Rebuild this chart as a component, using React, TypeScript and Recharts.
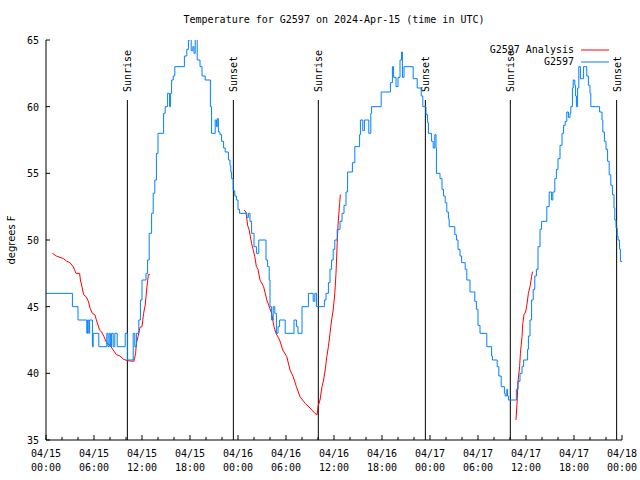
import React from 'react';
import { LineChart, Line, XAxis, YAxis, ReferenceLine, Legend } from 'recharts';

const MONO = '"DejaVu Sans Mono", monospace';

// observed temperatures, [hour since 04/15 00:00 UTC, degF]
const obsReadings: [number, number][] = [
  [0, 46], [3.3, 45], [4.0, 44], [5.1, 43], [5.2, 44], [5.35, 43], [5.45, 44], [5.8, 42], [5.9, 43], [6.6, 42],
  [7.6, 43], [7.75, 42], [7.9, 43], [8.05, 42], [8.2, 43], [8.4, 42], [8.6, 43], [8.9, 42], [9.9, 43], [10.2, 41],
  [10.9, 43], [11.1, 42], [11.3, 43], [11.6, 44], [11.8, 45.5], [12.0, 47], [12.5, 47.5], [12.7, 48.5], [12.9, 50.5], [13.2, 52],
  [13.4, 53.5], [13.6, 54.5], [13.8, 56.5], [14.0, 58], [14.7, 59.5], [14.9, 60], [15.2, 61], [15.45, 60], [15.55, 61], [15.7, 62],
  [15.9, 62.3], [16.1, 63], [17.3, 63.8], [17.6, 64.3], [17.8, 65], [18.0, 65.5], [18.15, 64.2], [18.35, 64.5], [18.5, 64], [18.65, 65.5],
  [18.9, 63.5], [19.25, 63], [19.5, 62.3], [19.9, 62], [20.55, 60], [20.7, 58], [21.15, 59], [21.3, 58.5], [21.4, 59.1], [21.55, 58.1],
  [21.75, 57.9], [21.95, 57.4], [22.2, 56.9], [22.4, 56.6], [22.8, 56], [23.0, 55.6], [23.1, 55.1], [23.2, 54.6], [23.4, 53.7], [23.6, 53.3],
  [23.8, 53], [24.0, 52.3], [24.2, 52], [25.1, 51.7], [25.3, 52], [25.5, 51.4], [25.7, 50.5], [26.0, 49.5], [26.3, 49], [26.6, 50],
  [27.5, 48.5], [27.7, 48], [27.9, 47], [28.0, 45], [28.2, 44], [28.4, 45], [28.6, 44.5], [28.8, 43], [29.0, 43.5], [29.2, 44],
  [29.9, 43], [31.0, 44], [31.3, 43.5], [31.5, 43], [32.0, 45], [32.8, 46], [33.4, 45.4], [33.6, 46], [33.8, 45], [34.8, 45.5],
  [35.0, 46], [35.3, 46.8], [35.5, 47.8], [35.7, 48.5], [35.9, 49.3], [36.1, 50], [36.4, 50.8], [36.75, 51.4], [37.0, 52], [37.25, 52.6],
  [37.5, 53.6], [37.7, 55.1], [38.3, 55.8], [38.6, 57], [39.2, 57.9], [39.3, 59], [39.6, 58.2], [39.8, 59], [40.35, 58], [40.6, 59.5],
  [40.7, 60], [41.9, 61.1], [43.05, 61.8], [43.3, 63], [43.45, 62.2], [43.75, 61.5], [44.0, 62.2], [44.25, 63.5], [44.45, 64.1], [44.55, 62.2],
  [44.75, 63], [45.9, 62.1], [46.4, 61.4], [46.9, 60.8], [47.1, 60], [47.5, 59.4], [47.7, 58.8], [47.8, 58], [48.2, 57.4], [48.4, 56.9],
  [48.6, 57.9], [48.75, 56.9], [48.8, 55], [49.25, 54.6], [49.5, 53.8], [49.7, 53.3], [49.9, 52.8], [50.1, 52.1], [50.3, 51.6], [50.4, 51],
  [51.1, 50.4], [51.3, 50], [51.5, 49.3], [51.75, 48.8], [51.95, 48.3], [52.4, 47.8], [52.6, 47], [53.0, 46.1], [53.6, 45.4], [53.8, 44.8],
  [54.0, 43.6], [54.25, 43], [55.1, 42], [55.7, 41.3], [55.8, 41], [56.4, 40.5], [56.6, 39.8], [56.9, 39], [57.3, 38.5], [57.4, 38.3],
  [57.6, 38.8], [57.7, 38.3], [57.8, 38], [58.8, 38.8], [59.0, 39.4], [59.25, 40], [59.5, 40.5], [59.7, 41], [60.2, 41.8], [60.3, 42.8],
  [60.5, 44], [60.7, 45.5], [60.9, 46.3], [61.1, 47.3], [61.3, 47.8], [61.5, 49.5], [61.75, 50.8], [61.95, 51.4], [62.6, 52.5], [62.9, 53.6],
  [63.2, 53], [63.35, 53.6], [63.6, 54.6], [63.8, 55.3], [64.0, 56.1], [64.25, 57.1], [64.5, 58], [64.7, 58.6], [64.9, 58.9], [65.1, 59.6],
  [65.3, 59.2], [65.5, 59.5], [65.6, 60], [65.8, 61.4], [65.9, 62], [66.1, 61.6], [66.2, 60.8], [66.3, 60], [66.45, 61.4], [66.6, 63],
  [66.8, 62.1], [67.1, 62.1], [67.2, 63], [67.6, 62.3], [67.8, 61.6], [68.0, 61], [68.1, 60], [69.2, 59.6], [69.5, 59], [69.6, 58.1],
  [69.8, 57.4], [70.0, 56.8], [70.2, 55.9], [70.4, 54.9], [70.6, 54.1], [70.8, 53.4], [71.0, 52.4], [71.1, 51.5], [71.25, 50.9], [71.4, 50.3],
  [71.5, 50], [71.7, 49.3], [71.8, 48.4], [72, 48.4],
];

// analysis runs, null breaks the line between runs
const anaReadings: [number, number | null][] = [
  [0.8, 49], [1.3, 48.8], [1.75, 48.7], [2.2, 48.6], [2.6, 48.4], [3.0, 48.3], [3.4, 48.0], [3.75, 47.5], [4.2, 47.5], [4.3, 47],
  [4.5, 46.5], [4.7, 45.9], [5.0, 45.75], [5.3, 45.4], [5.5, 44.9], [5.8, 44.5], [6.1, 44.4], [6.3, 44], [6.7, 43.25], [6.95, 43.1],
  [7.25, 42.75], [7.6, 42.25], [8.0, 42.1], [8.4, 41.75], [8.8, 41.4], [9.25, 41.3], [9.7, 41.05], [10.2, 40.95], [11.0, 40.9], [11.2, 41.5],
  [11.3, 42.25], [11.5, 42.75], [11.75, 43.45], [12.0, 43.5], [12.2, 44.5], [12.4, 45.1], [12.6, 46.4], [12.8, 47.4], [13.0, 47.4],
  [13.5, null],
  [24.75, 52.25], [25.0, 52.1], [25.2, 51.1], [25.4, 50.75], [25.7, 49.75], [25.9, 49.25], [26.1, 48.75], [26.3, 48], [26.5, 47.8], [26.75, 47],
  [27.2, 46.5], [27.4, 46], [27.6, 45.5], [27.9, 45], [28.2, 44.5], [28.5, 43.5], [28.75, 43], [29.2, 42.5], [29.6, 41.75], [30.1, 41.25],
  [30.5, 40.25], [30.9, 39.75], [31.3, 39], [31.75, 38.25], [32.4, 37.75], [33.0, 37.4], [33.6, 37], [33.9, 36.9], [34.0, 37.5], [34.25, 38],
  [34.5, 39], [34.7, 39.5], [34.9, 40.25], [35.1, 41.25], [35.3, 42], [35.5, 43], [35.7, 44], [35.9, 44.75], [36.1, 46], [36.25, 47.5],
  [36.4, 49.75], [36.5, 51.1], [36.7, 52.75], [36.8, 53.4],
  [37.5, null],
  [58.75, 36.5], [58.9, 38], [59.0, 39.4], [59.2, 40.5], [59.3, 41.5], [59.5, 42.75], [59.6, 43.75], [59.75, 44.4], [59.95, 44.6], [60.1, 45.1],
  [60.3, 46], [60.5, 46.5], [60.7, 47.25], [60.8, 47.6], [60.9, 47.6],
];

const seriesNames = ['G2597 Analysis', 'G2597'];
const hourTicks = [0, 2, 4, 6, 8, 10, 12, 14, 16, 18, 20, 22, 24, 26, 28, 30, 32, 34, 36, 38, 40, 42, 44, 46, 48, 50, 52, 54, 56, 58, 60, 62, 64, 66, 68, 70, 72];
const dayLabels = ['04/15', '04/15', '04/15', '04/15', '04/16', '04/16', '04/16', '04/16', '04/17', '04/17', '04/17', '04/17', '04/18'];
const timeLabels = ['00:00', '06:00', '12:00', '18:00', '00:00', '06:00', '12:00', '18:00', '00:00', '06:00', '12:00', '18:00', '00:00'];
const tempTicks = [35, 40, 45, 50, 55, 60, 65];

const sunTimes = [10.17, 23.42, 34.04, 47.42, 58.04, 71.33];
const sunLabels = ['Sunrise', 'Sunset', 'Sunrise', 'Sunset', 'Sunrise', 'Sunset'];
const SUN_LINE_TOP = 60.5;

const obsData = obsReadings.map(([h, t]) => ({ h, t }));
const anaData = anaReadings.map(([h, t]) => ({ h, t }));

function BottomTick({ x, y, payload }: any) {
  const v = payload.value;
  const major = v % 6 === 0;
  const i = v / 6;
  return (
    <g>
      <line x1={x} x2={x} y1={y} y2={y - (major ? 5 : 3)} stroke="#000" />
      {major && (
        <text textAnchor="middle" fontFamily={MONO} fontSize={10} fill="#000">
          <tspan x={x} y={y + 17}>{dayLabels[i]}</tspan>
          <tspan x={x} y={y + 31}>{timeLabels[i]}</tspan>
        </text>
      )}
    </g>
  );
}

function TopTick({ x, y, payload }: any) {
  const major = payload.value % 6 === 0;
  return <line x1={x} x2={x} y1={y} y2={y + (major ? 5 : 3)} stroke="#000" />;
}

function LeftTick({ x, y, payload }: any) {
  return (
    <g>
      <line x1={x} x2={x + 4} y1={y} y2={y} stroke="#000" />
      <text x={x - 7} y={y + 4} textAnchor="end" fontFamily={MONO} fontSize={10} fill="#000">
        {payload.value}
      </text>
    </g>
  );
}

function RightTick({ x, y }: any) {
  return <line x1={x} x2={x - 4} y1={y} y2={y} stroke="#000" />;
}

const sunLabel = (text: string) => (props: any) => {
  const vb = props.viewBox;
  const top = Math.min(vb.y, vb.y + vb.height);
  return (
    <text
      transform={`translate(${vb.x + 4},${top - 8}) rotate(-90)`}
      fontFamily={MONO}
      fontSize={10}
      fill="#000"
    >
      {text}
    </text>
  );
};

function KeyBox({ payload }: any) {
  const items = [...(payload || [])].sort(
    (a: any, b: any) => seriesNames.indexOf(a.value) - seriesNames.indexOf(b.value)
  );
  return (
    <div style={{ fontFamily: MONO, fontSize: 10, lineHeight: '12px', color: '#000' }}>
      {items.map((p: any) => (
        <div key={p.value} style={{ display: 'flex', justifyContent: 'flex-end', alignItems: 'center' }}>
          <span>{p.value}</span>
          <svg width={28} height={4} style={{ marginLeft: 7 }}>
            <line x1={0} x2={28} y1={2} y2={2} stroke={p.color} strokeWidth={1} />
          </svg>
        </div>
      ))}
    </div>
  );
}

export default function App() {
  return (
    <div style={{ position: 'absolute', left: 0, top: 0, width: 640, height: 480, background: '#fff' }}>
      <div
        style={{
          position: 'absolute',
          left: 46,
          width: 576,
          top: 14,
          textAlign: 'center',
          fontFamily: MONO,
          fontSize: 10,
          lineHeight: '12px',
          color: '#000',
        }}
      >
        Temperature for G2597 on 2024-Apr-15 (time in UTC)
      </div>
      <LineChart width={640} height={480} margin={{ top: 40, right: 18, bottom: 0, left: 0 }}>
        <XAxis
          dataKey="h"
          type="number"
          domain={[0, 72]}
          allowDataOverflow
          ticks={hourTicks}
          interval={0}
          height={40}
          tickSize={0}
          tickMargin={0}
          tickLine={false}
          axisLine={{ stroke: '#000' }}
          tick={<BottomTick />}
        />
        <XAxis
          xAxisId="top"
          orientation="top"
          type="number"
          domain={[0, 72]}
          allowDataOverflow
          ticks={hourTicks}
          interval={0}
          height={0}
          tickSize={0}
          tickMargin={0}
          tickLine={false}
          axisLine={{ stroke: '#000' }}
          tick={<TopTick />}
        />
        <YAxis
          type="number"
          domain={[35, 65]}
          allowDataOverflow
          ticks={tempTicks}
          interval={0}
          width={46}
          tickSize={0}
          tickMargin={0}
          tickLine={false}
          axisLine={{ stroke: '#000' }}
          tick={<LeftTick />}
          label={{
            value: 'degrees F',
            angle: -90,
            position: 'center',
            dx: -12,
            style: { fontFamily: '"DejaVu Sans", sans-serif', fontSize: 10, fill: '#000' },
          }}
        />
        <YAxis
          yAxisId="right"
          orientation="right"
          type="number"
          domain={[35, 65]}
          allowDataOverflow
          ticks={tempTicks}
          interval={0}
          width={0}
          tickSize={0}
          tickMargin={0}
          tickLine={false}
          axisLine={{ stroke: '#000' }}
          tick={<RightTick />}
        />
        {sunTimes.map((t, i) => (
          <ReferenceLine
            key={t}
            segment={[
              { x: t, y: 35 },
              { x: t, y: SUN_LINE_TOP },
            ]}
            stroke="#000"
            strokeWidth={1}
            label={sunLabel(sunLabels[i])}
          />
        ))}
        <Legend
          layout="horizontal"
          verticalAlign="middle"
          align="center"
          wrapperStyle={{ top: 44, right: 31, left: 'auto', width: 'auto', height: 'auto' }}
          content={<KeyBox />}
        />
        <Line
          data={anaData}
          dataKey="t"
          name={seriesNames[0]}
          type="linear"
          stroke="#ff0000"
          strokeWidth={1}
          dot={false}
          activeDot={false}
          connectNulls={false}
          isAnimationActive={false}
        />
        <Line
          data={obsData}
          dataKey="t"
          name={seriesNames[1]}
          type="stepAfter"
          stroke="#0080ff"
          strokeWidth={1}
          dot={false}
          activeDot={false}
          isAnimationActive={false}
        />
      </LineChart>
    </div>
  );
}
